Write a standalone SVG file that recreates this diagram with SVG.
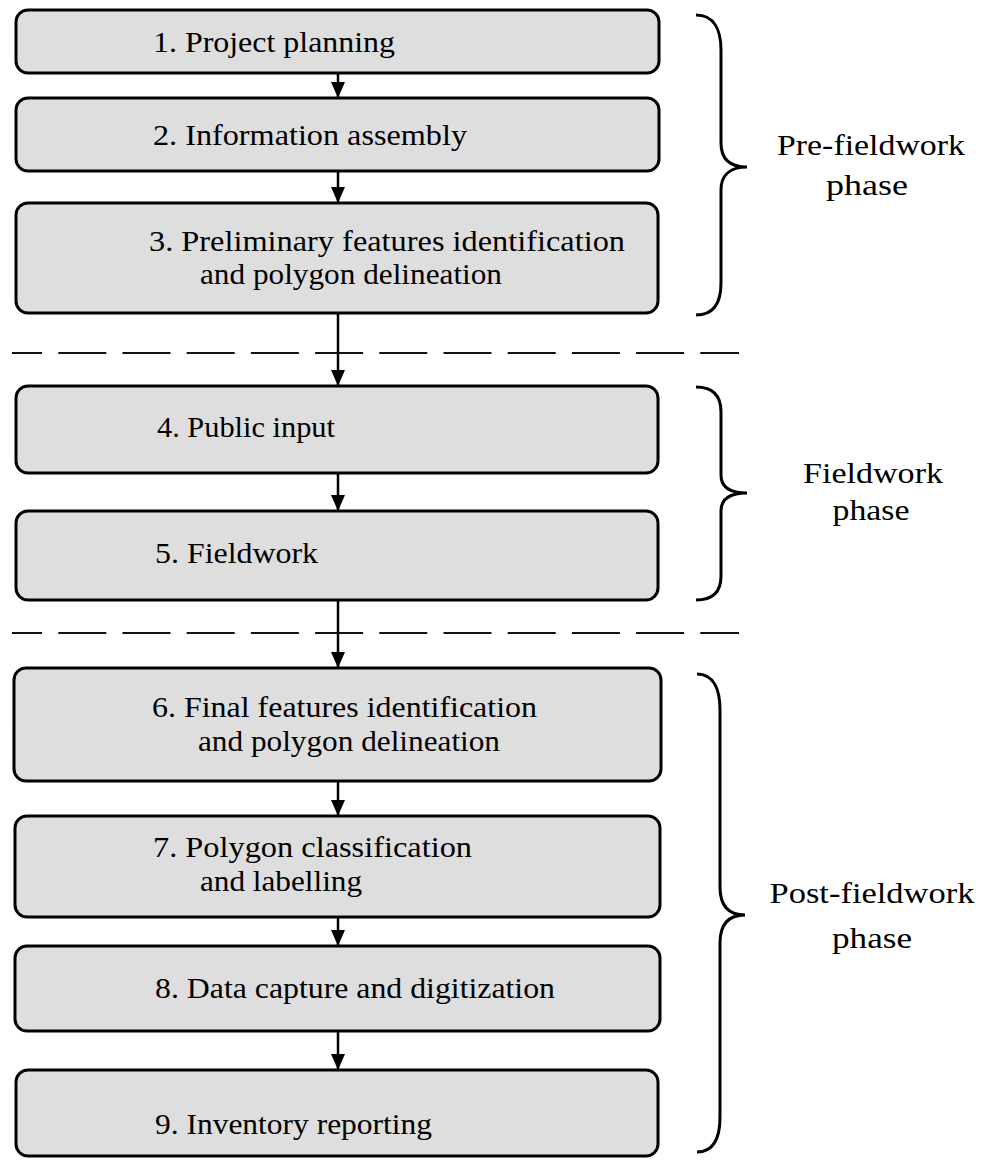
<svg xmlns="http://www.w3.org/2000/svg" width="981" height="1160" viewBox="0 0 981 1160">
<style>
.box{fill:#dedede;stroke:#000;stroke-width:3}
.t{font-family:"Liberation Serif","Times New Roman",serif;font-size:30px;fill:#000}
.t2{font-family:"Liberation Serif","Times New Roman",serif;font-size:29px;fill:#000}
.lab{font-family:"Liberation Serif","Times New Roman",serif;font-size:30px;fill:#000;text-anchor:middle}
.arr{stroke:#000;stroke-width:2.5;fill:none}
.dash{stroke:#111;stroke-width:2;stroke-dasharray:48 16.2;stroke-dashoffset:17.9;fill:none}
.brace{stroke:#000;stroke-width:3;fill:none}
</style>
<defs>
<marker id="ah" markerUnits="userSpaceOnUse" markerWidth="16" markerHeight="14" refX="16" refY="7" orient="auto">
<path d="M0,0 L16,7 L0,14 Z" fill="#000"/>
</marker>
</defs>
<rect width="981" height="1160" fill="#fff"/>
<g id="separators">
<line class="dash" x1="12" y1="353" x2="739" y2="353"/>
<line class="dash" x1="12" y1="633" x2="739" y2="633"/>
</g>
<g id="connectors">
<line class="arr" x1="338" y1="73" x2="338" y2="98" marker-end="url(#ah)"/>
<line class="arr" x1="338" y1="171" x2="338" y2="203" marker-end="url(#ah)"/>
<line class="arr" x1="338" y1="313" x2="338" y2="386" marker-end="url(#ah)"/>
<line class="arr" x1="338" y1="473" x2="338" y2="511" marker-end="url(#ah)"/>
<line class="arr" x1="338" y1="600" x2="338" y2="668" marker-end="url(#ah)"/>
<line class="arr" x1="338" y1="781" x2="338" y2="816" marker-end="url(#ah)"/>
<line class="arr" x1="338" y1="917" x2="338" y2="946" marker-end="url(#ah)"/>
<line class="arr" x1="338" y1="1031" x2="338" y2="1070" marker-end="url(#ah)"/>
</g>
<g id="n1"><rect class="box" x="16" y="10" width="643" height="63" rx="12"/>
<text class="t" x="153" y="52" textLength="242" lengthAdjust="spacingAndGlyphs">1. Project planning</text></g>
<g id="n2"><rect class="box" x="16" y="98" width="643" height="73" rx="12"/>
<text class="t" x="153" y="145" textLength="314" lengthAdjust="spacingAndGlyphs">2. Information assembly</text></g>
<g id="n3"><rect class="box" x="16" y="203" width="642" height="110" rx="12"/>
<text class="t2" x="149" y="251" textLength="476" lengthAdjust="spacingAndGlyphs">3. Preliminary features identification</text>
<text class="t2" x="200" y="284" textLength="302" lengthAdjust="spacingAndGlyphs">and polygon delineation</text></g>
<g id="n4"><rect class="box" x="16" y="386" width="642" height="87" rx="12"/>
<text class="t" x="157" y="437" textLength="178" lengthAdjust="spacingAndGlyphs">4. Public input</text></g>
<g id="n5"><rect class="box" x="16" y="511" width="642" height="89" rx="12"/>
<text class="t" x="155" y="563" textLength="163" lengthAdjust="spacingAndGlyphs">5. Fieldwork</text></g>
<g id="n6"><rect class="box" x="14" y="668" width="647" height="113" rx="12"/>
<text class="t2" x="152" y="717" textLength="385" lengthAdjust="spacingAndGlyphs">6. Final features identification</text>
<text class="t2" x="198" y="751" textLength="302" lengthAdjust="spacingAndGlyphs">and polygon delineation</text></g>
<g id="n7"><rect class="box" x="15" y="816" width="645" height="101" rx="12"/>
<text class="t2" x="153" y="857" textLength="319" lengthAdjust="spacingAndGlyphs">7. Polygon classification</text>
<text class="t2" x="200" y="891" textLength="162" lengthAdjust="spacingAndGlyphs">and labelling</text></g>
<g id="n8"><rect class="box" x="15" y="946" width="645" height="85" rx="12"/>
<text class="t" x="155" y="998" textLength="400" lengthAdjust="spacingAndGlyphs">8.  Data capture and digitization</text></g>
<g id="n9"><rect class="box" x="16" y="1070" width="642" height="86" rx="12"/>
<text class="t" x="155" y="1134" textLength="277" lengthAdjust="spacingAndGlyphs">9. Inventory reporting</text></g>
<g id="pre-fieldwork">
<path class="brace" d="M696,15 C714,15 721,30 721,50 L721,143 C721,158 729,167 747,167 C729,167 721,176 721,190 L721,283 C721,303 714,315 696,315"/>
<text class="lab" x="871" y="155" textLength="188" lengthAdjust="spacingAndGlyphs">Pre-fieldwork</text>
<text class="lab" x="867" y="195" textLength="82" lengthAdjust="spacingAndGlyphs">phase</text>
</g>
<g id="fieldwork">
<path class="brace" d="M696,387 C714,387 721,397 721,412 L721,475 C721,487 729,493 747,493 C729,493 721,499 721,511 L721,576 C721,591 714,600 696,600"/>
<text class="lab" x="873" y="483" textLength="140" lengthAdjust="spacingAndGlyphs">Fieldwork</text>
<text class="lab" x="871" y="520" textLength="77" lengthAdjust="spacingAndGlyphs">phase</text>
</g>
<g id="post-fieldwork">
<path class="brace" d="M697,674 C714,674 720,690 720,710 L720,887 C720,905 728,915 745,915 C728,915 720,925 720,943 L720,1117 C720,1138 714,1152 697,1152"/>
<text class="lab" x="872" y="903" textLength="205" lengthAdjust="spacingAndGlyphs">Post-fieldwork</text>
<text class="lab" x="872" y="948" textLength="80" lengthAdjust="spacingAndGlyphs">phase</text>
</g>
</svg>
